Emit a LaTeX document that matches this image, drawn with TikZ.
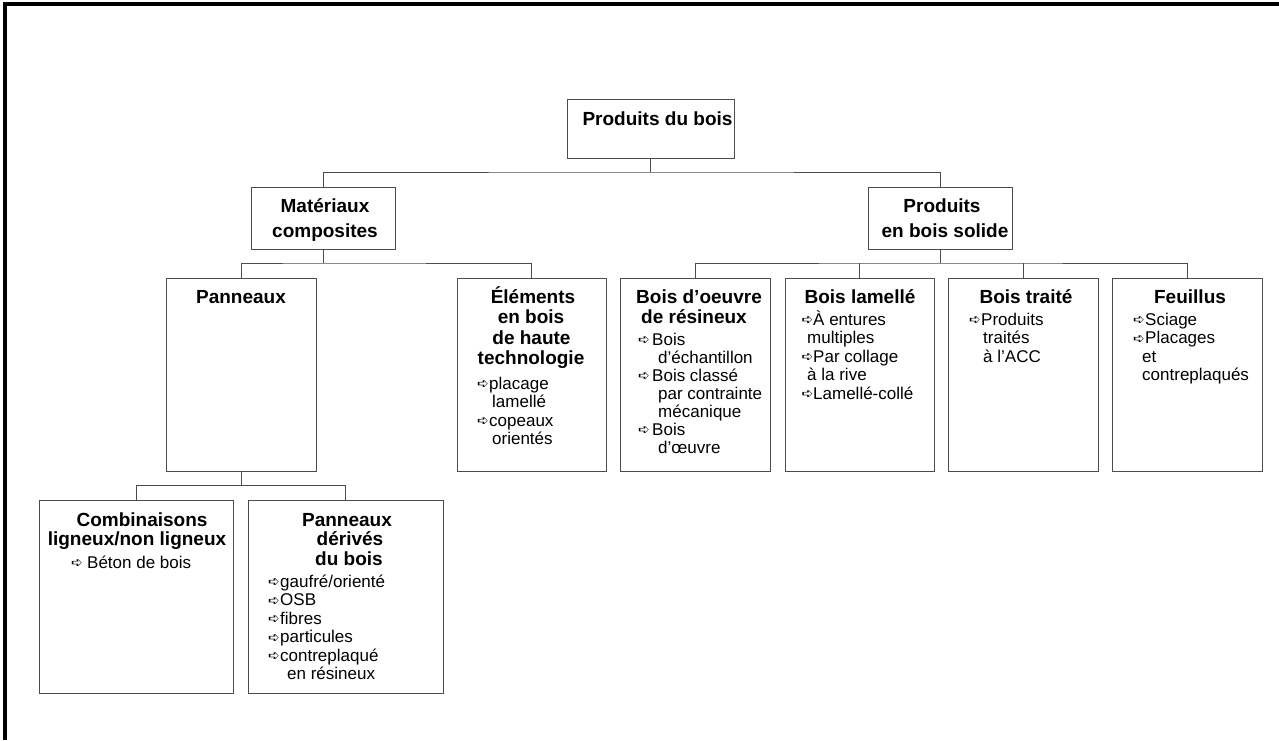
\documentclass[tikz,border=0pt]{standalone}
\usepackage{fontspec}
\setmainfont{Liberation Sans}
\newfontfamily\arrowfont{DejaVu Sans}
\newcommand\ar[1][12pt]{\makebox[#1][l]{\raisebox{0.5pt}{\arrowfont\fontsize{14}{14}\selectfont ➪}}}
\tikzset{
  box/.style={draw=black!70, line width=1pt, rectangle, inner sep=0pt, outer sep=0pt, fill=white},
  conn/.style={draw=black!70, line width=1pt},
  hd/.style={inner sep=0pt, anchor=base, font=\fontsize{19}{19}\selectfont\bfseries},
  bd/.style={inner sep=0pt, anchor=base west, font=\fontsize{17}{17}\selectfont},
}
\begin{document}
\begin{tikzpicture}[x=1pt,y=-1pt]
\useasboundingbox (0,0) rectangle (1279,740);
\fill[white] (0,0) rectangle (1279,740);
\draw[line width=4pt, line join=miter] (5.3,740) -- (5.3,3.7) -- (1279,3.7);

% boxes
\node[box, minimum width=167pt, minimum height=59pt] (top) at (650.5,128.5) {};
\node[box, minimum width=144pt, minimum height=62pt] (mat) at (323,218) {};
\node[box, minimum width=144pt, minimum height=62pt] (sol) at (940,218) {};
\node[box, minimum width=150pt, minimum height=193pt] (pan) at (241,374.5) {};
\node[box, minimum width=149pt, minimum height=193pt] (ele) at (531.5,374.5) {};
\node[box, minimum width=150pt, minimum height=193pt] (bo) at (695,374.5) {};
\node[box, minimum width=149pt, minimum height=193pt] (bl) at (859.5,374.5) {};
\node[box, minimum width=150pt, minimum height=193pt] (bt) at (1023,374.5) {};
\node[box, minimum width=150pt, minimum height=193pt] (fe) at (1187,374.5) {};
\node[box, minimum width=194pt, minimum height=193pt] (comb) at (136,596.5) {};
\node[box, minimum width=195pt, minimum height=193pt] (pdb) at (345.5,596.5) {};

% connectors
\draw[conn] (top.south) -- ++(0,14) coordinate (j1);
\draw[conn] (mat.north) |- (j1) -| (sol.north);
\draw[conn] (mat.south) -- ++(0,14) coordinate (j2);
\draw[conn] (pan.north) |- (j2) -| (ele.north);
\draw[conn] (sol.south) -- ++(0,14) coordinate (j3);
\draw[conn] (bo.north) |- (j3) -| (fe.north);
\draw[conn] (bl.north) -- (bl.north |- j3);
\draw[conn] (bt.north) -- (bt.north |- j3);
\draw[conn] (pan.south) -- ++(0,14) coordinate (j4);
\draw[conn] (comb.north) |- (j4) -| (pdb.north);

% headings
\node[hd] (t1) at (657.5,125) {Produits du bois};
\node[hd] (m1) at (325,212) {Matériaux};
\node[hd] (m2) at (325,237) {composites};
\node[hd] (s1) at (942,212) {Produits};
\node[hd] (s2) at (945,237) {en bois solide};
\node[hd] (p1) at (241,303) {Panneaux};
\node[hd] (e1) at (533,303) {Éléments};
\node[hd] (e2) at (531,323.5) {en bois};
\node[hd] (e3) at (531.5,344) {de haute};
\node[hd] (e4) at (531,364.5) {technologie};
\node[hd] (b1) at (699,303) {Bois d’oeuvre};
\node[hd] (b2) at (694,323.5) {de résineux};
\node[hd] (l1) at (860,303) {Bois lamellé};
\node[hd] (r1) at (1026,303) {Bois traité};
\node[hd] (f1) at (1190,303) {Feuillus};
\node[hd] (c1) at (142,526) {Combinaisons};
\node[hd] (c2) at (137,545) {ligneux/non ligneux};
\node[hd] (d1) at (347,526) {Panneaux};
\node[hd] (d2) at (350,545) {dérivés};
\node[hd] (d3) at (349,565) {du bois};

% body: Éléments
\node[bd] (ea) at (477,389) {\ar placage};
\node[bd] (eb) at (492,407.5) {lamellé};
\node[bd] (ec) at (477,426) {\ar copeaux};
\node[bd] (ed) at (492,444.5) {orientés};
% body: Bois d'oeuvre
\node[bd] (ba) at (638,345) {\ar[14pt]Bois};
\node[bd] (bb) at (658,363) {d’échantillon};
\node[bd] (bc) at (638,381) {\ar[14pt]Bois classé};
\node[bd] (bd1) at (658,399) {par contrainte};
\node[bd] (be) at (658,417) {mécanique};
\node[bd] (bf) at (638,435) {\ar[14pt]Bois};
\node[bd] (bg) at (658,453) {d’œuvre};
% body: Bois lamellé
\node[bd] (la) at (801.5,325) {\ar[11.5pt]À entures};
\node[bd] (lb) at (807,343.5) {multiples};
\node[bd] (lc) at (801.5,362) {\ar[11.5pt]Par collage};
\node[bd] (ld) at (807,380.5) {à la rive};
\node[bd] (le) at (801.5,399) {\ar[11.5pt]Lamellé-collé};
% body: Bois traité
\node[bd] (ra) at (969,325) {\ar Produits};
\node[bd] (rb) at (983,343.5) {traités};
\node[bd] (rc) at (983,362) {à l’ACC};
% body: Feuillus
\node[bd] (fa) at (1133,325) {\ar Sciage};
\node[bd] (fb) at (1133,343.5) {\ar Placages};
\node[bd] (fc) at (1142,362) {et};
\node[bd] (fd) at (1142,380.5) {contreplaqués};
% body: Combinaisons
\node[bd] (ca) at (71,568) {\ar[16pt]Béton de bois};
% body: Panneaux dérivés
\node[bd] (da) at (268,587) {\ar gaufré/orienté};
\node[bd] (db) at (268,605.5) {\ar OSB};
\node[bd] (dc) at (268,624) {\ar fibres};
\node[bd] (dd) at (268,642.5) {\ar particules};
\node[bd] (de) at (268,661) {\ar contreplaqué};
\node[bd] (df) at (287,679.5) {en résineux};
\end{tikzpicture}
\end{document}
